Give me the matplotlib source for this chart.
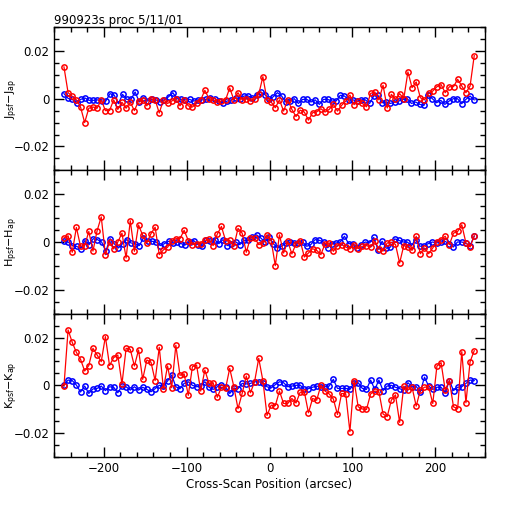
import numpy as np
import matplotlib
matplotlib.use("Agg")
import matplotlib.pyplot as plt
from matplotlib.ticker import MultipleLocator

# values in units of 0.001 mag
j_red = [13.3, 2.5, 1, -0.5, -3.5, -10, -4, -3.5, -4, -0.5, -5, -5, -0.5, -4.5, -1.5, -4,
         -1.5, -5, -1, -0.5, -3, 0, -0.5, -6, -0.5, -2, -1, 0, -3, -0.5, -3, -3.5, -2, -0.5,
         3.5, 0, -0.5, -1.5, -1, -0.5, 4.5, -0.5, 2.5, -0.5, 0, -1,
         -0.3, 1.8, 9.2, -0.5, -1.4, -3.8, -0.5, -5.2, -0.5, -4.5, -7.5, -4.8, -5.6, -9, -5.9,
         -5.5, -4.2, -5.6, -4.5, -2.4, -5.2, -2.8, -1, 1.5, -2.5, -1, -2, -3.4, 2.2, 2.8, -0.5,
         5.6, -3.9, 1.8, -0.3, 2.1, 0, 11.2, 4.6, 7, 0.4, -0.5, 2.2, 3.2, 5, 5.9, 2.5, 5, 5,
         8.1, 5.3, 2.5, 5.3, 18]
j_blue = [2.1, 0.1, -0.3, -2, -0.3, 0.3, -0.7, -0.7, -0.5, -1, -1, 2.1, 1.5, -2.1, 1.8, -0.3,
          -0.3, 2.8, -1.4, 0.4, -1, -0.3, -0.5, -1.4, -0.5, 0.8, 2.5, 0, -0.3, -0.5, -0.3, -1,
          -0.5, -0.5, -0.3, 0.4, 0, -1, -1.7, -1, -0.5, 0.4, 0, 1.1, 1.1, 0.4,
          1.5, 2.8, 1.7, -0.3, 0.8, 2.5, 1.1, -1.4, -0.8, 0, -2, -0.3, -0.3, -1.4, -0.5, -2.4,
          -0.3, -0.3, -1, -1, 1.4, 1.1, -0.5, -0.5, -1, -0.5, -0.5, -2, 1.1, 1.4, -1.7, -1.4,
          -2, -1.4, -1, -0.3, 0, -2, -1.4, -2.4, -2.8, 1.4, 0, -1.7, -0.7, -2.4, -1, 0, 0,
          -2.1, -0.3, 1.1, -0.5]

h_red = [1.7, 2.6, -4.3, 6.1, -1.8, -1.5, 4.4, -3.8, 4.7, 10.5, -5.3, 0, -2.9, 0, 3.7, -6.7,
         8.9, -3.9, 7.1, 2.8, -0.4, 3.5, 6.2, -5.3, -3.3, -2.2, 0.3, 1.4, 1.4, 4.9, 0.6, -1.1,
         -0.7, -0.7, 0.7, 1.1, -1.5, 3.3, 6.5, 0.6, 0.7, -1.8, 5.7, 3.7, -4.3, 1.7,
         1.7, -1.1, -0.4, 3, 0.6, -9.9, 3, -4.6, 0.3, -5, -0.7, 0.6, -6.3, -4.6, -2.8, -3.5,
         -5.3, -0.7, -0.4, -3.9, -1.5, -1.1, -2.1, -2.9, -1.1, -2.8, -1.8, -1.5, -2.2, 0.3,
         -2.8, -3.8, -0.4, -0.1, -1, -8.8, -1.5, -2.1, -3.5, 2.4, -4.9, -2.5, -4.9, -2.5, 0.1,
         1, 2.4, -1.1, 3.7, 4.4, 7.2, -0.4, -2.1, 2.6]
h_blue = [0.5, 0, -1.5, -1.8, -2.8, 0.6, -1.1, 1.4, 1, 0, -3.9, 1.4, -0.7, -2.5, -0.7, 1,
          -0.4, -0.7, -1.5, 1.7, 0.3, 0.3, 0, -1.5, -0.7, 0.3, -0.4, 0, -0.7, -1.2, 0, 0.6,
          -1.1, -1.8, 0.7, 0.3, 1, -0.7, 1, -1.5, -0.7, 0.1, -1.1, 0.7, 0.7, 2.1,
          3, 1.7, 0, 2.1, -0.7, -2.5, -1.8, -0.5, 0, -0.3, -0.5, 0, -1.8, -1, 1, 0.7, 0,
          -2.4, -0.7, -0.4, 0, 2.4, -0.7, -0.7, -2.5, -1.1, 0, -0.4, 1.9, -3.2, 0.3, -2.6,
          -2.1, 1.3, 0.7, 0, 0, -1.5, 1, -1.8, -1.5, -0.7, 0, -0.4, 0, 0.3, -0.7, -2.1, 0,
          0, -0.5, -1.5, 2.4]

k_red = [-0.4, 23.2, 18, 13.8, 10.9, 6, 8.3, 15.5, 12.7, 9.9, 20.4, 8.3, 11.6, 12.7, 0.6,
         15.5, 15.1, 8.1, 14.8, 2.5, 10.6, 9.7, 2, 15.9, -1.4, 8.1, -1, 16.8, 4.2, 4.8, -4.2,
         7.8, 8.5, -2.4, 6.4, 0.8, 1.1, -5, -0.8, -1.3, 7.1, -0.6, -9.8, -3.4, 3.9,
         -3.1, 1.5, 11.3, 2, -12.6, -8.3, -8.5, -2.4, -7.6, -7.6, -5.5, -7.4, -2.9, -2.7,
         -11.5, -5.5, -6.2, 0.1, -2.4, -3.6, -5.7, -12.2, -3.4, -3.6, -19.4, 2, -9, -9.9,
         -10.1, -3.6, -2.4, -2.7, -12, -13.1, -6.2, -4, -15.5, -0.3, -2, -0.8, -8.7, -2,
         -0.8, -0.6, -7.6, 8.1, 9.5, -2, 2, -9, -9.8, 14.1, -7.3, 9.9, 14.5]
k_blue = [0.3, 2.2, 2, 0.1, -2.8, -0.3, -3.4, -1.5, -1.3, -0.3, -2.2, -0.6, -0.8, -3.1, -0.3,
          -0.6, -2, -0.6, -2, -0.8, -1.7, -2.7, -1.4, 0, -0.3, 1.8, 4.3, -0.6, -1.4, 0.8,
          1.5, 0, -0.6, -0.3, 1.5, -0.8, -1.7, -0.6, 0, -0.6, -3.4, -1.3, -1.4, 0.8, 0.6,
          0.8, 1.5, 1.5, 1.1, -0.6, -1.1, 0.3, 1.5, 1.1, -0.6, -0.3, 0, 0.1, -1.7, -1.4,
          -0.8, -0.3, -0.8, -0.6, -0.3, 2.5, -1.3, -1.3, -1.3, -1.7, 0.8, 1.1, -1.3, -1.7,
          2.2, -1.7, 2.2, -2.2, -0.3, 0, -0.8, -1.4, -2, 1.1, -0.6, -0.5, -2.7, 3.4, -0.3,
          -1.7, -0.8, -0.8, -3.1, 2, -2.2, -0.8, -0.6, 0.8, 2.2, 2]

panels = [
    (j_red, j_blue, r"J$_{\rm psf}$$-$J$_{\rm ap}$"),
    (h_red, h_blue, r"H$_{\rm psf}$$-$H$_{\rm ap}$"),
    (k_red, k_blue, r"K$_{\rm psf}$$-$K$_{\rm ap}$"),
]

plt.rcParams['font.family'] = ['DejaVu Sans']
fig = plt.figure(figsize=(5.12, 5.12), dpi=100)
left, right, top, bottom = 54 / 512, 485 / 512, 1 - 27 / 512, 1 - 457 / 512
h = (top - bottom) / 3

for n, (red, blue, lab) in enumerate(panels):
    ax = fig.add_axes([left, top - (n + 1) * h, right - left, h])
    xr = np.linspace(-248, 247, len(red))
    xb = np.linspace(-248, 247, len(blue))
    ax.plot(xb, np.array(blue) * 1e-3, '-', color='blue', lw=0.9,
            marker='o', ms=3.8, mfc='none', mec='blue', mew=1.1)
    ax.plot(xr, np.array(red) * 1e-3, '-', color='red', lw=0.9,
            marker='o', ms=3.8, mfc='none', mec='red', mew=1.1)
    ax.set_xlim(-260, 260)
    ax.set_ylim(-0.03, 0.03)
    ax.xaxis.set_major_locator(MultipleLocator(100))
    ax.xaxis.set_minor_locator(MultipleLocator(20))
    ax.yaxis.set_major_locator(MultipleLocator(0.02))
    ax.yaxis.set_minor_locator(MultipleLocator(0.005))
    ax.tick_params(which='both', direction='in', top=True, right=True, width=1, labelsize=8.5)
    ax.tick_params(which='major', length=7)
    ax.tick_params(which='minor', length=3.5)
    ax.set_yticks([-0.02, 0, 0.02])
    ax.set_yticklabels(["\u22120.02", "0", "0.02"])
    ax.set_ylabel(lab, fontsize=8)
    ax.yaxis.set_label_coords(-0.078, 0.5)
    for s in ax.spines.values():
        s.set_linewidth(1)
    if n < 2:
        ax.tick_params(labelbottom=False)
    else:
        ax.set_xticks([-200, -100, 0, 100, 200])
        ax.set_xticklabels(["\u2212200", "\u2212100", "0", "100", "200"])
        ax.set_xlabel("Cross-Scan Position (arcsec)", fontsize=8.5, labelpad=2)
    if n == 0:
        ax.set_title("990923s proc 5/11/01", fontsize=8.5, loc='left', pad=2)

fig.savefig("out.png", dpi=100)
